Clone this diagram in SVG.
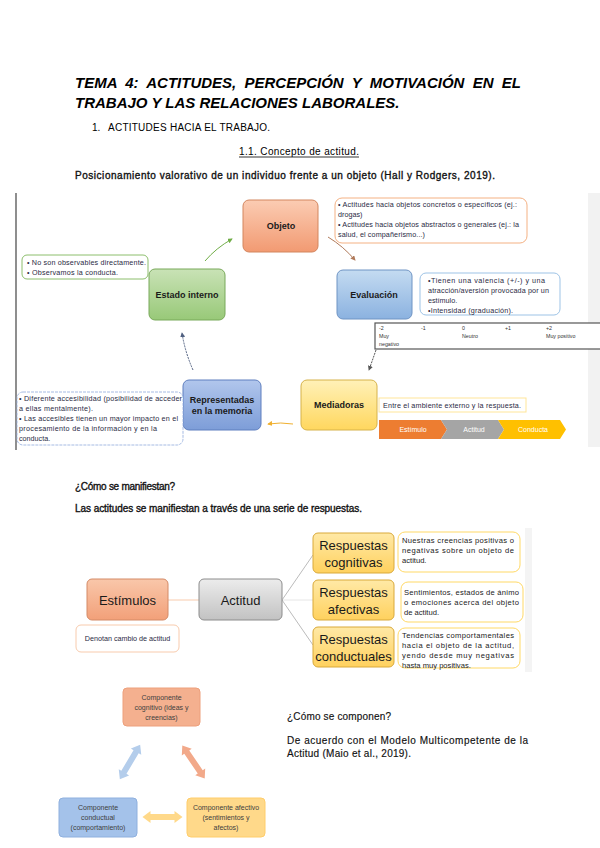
<svg xmlns="http://www.w3.org/2000/svg" width="600" height="848" viewBox="0 0 600 848">
<style>
text{font-family:"Liberation Sans",Arial,sans-serif;fill:#000}
.title{font-size:15px;font-weight:bold;font-style:italic}
.body{font-size:10px;fill:#111;stroke:#111;stroke-width:0.35}
.plain{font-size:10px;fill:#111;stroke:#111;stroke-width:0.15}
.reg{font-size:10px}
.lbl{font-size:9px;font-weight:bold;fill:#1a1a1a;text-anchor:middle}
.call{font-size:7.2px;fill:#2a2a44}
.scale{font-size:5.3px;fill:#333}
.chev{font-size:7px;fill:#fff;text-anchor:middle}
.big{font-size:13px;fill:#1a1a1a;text-anchor:middle}
.rc{font-size:7.6px;fill:#222}
.comp{font-size:7px;fill:#404040;text-anchor:middle}
.conn{fill:none;stroke-width:1}
</style>
<defs>
<linearGradient id="gOr" x1="0" y1="0" x2="0" y2="1"><stop offset="0" stop-color="#fbccb3"/><stop offset="1" stop-color="#f29a72"/></linearGradient>
<linearGradient id="gGr" x1="0" y1="0" x2="0" y2="1"><stop offset="0" stop-color="#c9e2b6"/><stop offset="1" stop-color="#98c978"/></linearGradient>
<linearGradient id="gBl" x1="0" y1="0" x2="0" y2="1"><stop offset="0" stop-color="#c4dbf1"/><stop offset="1" stop-color="#8bb2e0"/></linearGradient>
<linearGradient id="gYe" x1="0" y1="0" x2="0" y2="1"><stop offset="0" stop-color="#fff1b8"/><stop offset="1" stop-color="#ffd75e"/></linearGradient>
<linearGradient id="gBl2" x1="0" y1="0" x2="0" y2="1"><stop offset="0" stop-color="#b1c6ec"/><stop offset="1" stop-color="#7d9dd8"/></linearGradient>
<linearGradient id="gSa" x1="0" y1="0" x2="0" y2="1"><stop offset="0" stop-color="#f9c7aa"/><stop offset="1" stop-color="#f2a079"/></linearGradient>
<linearGradient id="gGy" x1="0" y1="0" x2="0" y2="1"><stop offset="0" stop-color="#ececec"/><stop offset="1" stop-color="#c2c2c2"/></linearGradient>
<linearGradient id="gRe" x1="0" y1="0" x2="0" y2="1"><stop offset="0" stop-color="#ffe9a6"/><stop offset="1" stop-color="#ffd15e"/></linearGradient>
<marker id="ah" viewBox="0 0 6 6" refX="5" refY="3" markerWidth="5" markerHeight="5" orient="auto"><path d="M0,0 L6,3 L0,6 z" fill="context-stroke"/></marker>
<path id="dbl" d="M-20,0 L-12,-6 L-12,-3 L12,-3 L12,-6 L20,0 L12,6 L12,3 L-12,3 L-12,6 Z"/>
</defs>

<g id="header">
<text class="title" x="75" y="88" word-spacing="4.1">TEMA 4: ACTITUDES, PERCEPCIÓN Y MOTIVACIÓN EN EL</text>
<text class="title" x="75" y="108">TRABAJO Y LAS RELACIONES LABORALES.</text>
<text class="reg" x="92" y="131">1.</text>
<text class="reg" x="108" y="131" textLength="162">ACTITUDES HACIA EL TRABAJO.</text>
<text class="reg" x="239" y="155" font-size="11" textLength="120">1.1. Concepto de actitud.</text>
<line x1="239" y1="157" x2="359" y2="157" stroke="#000" stroke-width="0.8"/>
<text class="body" x="75" y="179" textLength="420">Posicionamiento valorativo de un individuo frente a un objeto (Hall y Rodgers, 2019).</text>
</g>

<g id="frame1">
<line x1="16" y1="193" x2="16" y2="450" stroke="#444" stroke-width="1.2"/>
<rect x="588" y="193" width="12" height="254" fill="#f2f2f2"/>
</g>

<g id="connectors">
<path class="conn" d="M205,261 Q216,248 232,239" stroke="#70ad47" marker-end="url(#ah)"/>
<path class="conn" d="M328,237 Q343,246 355,260" stroke="#b07a5a" marker-end="url(#ah)"/>
<path class="conn" d="M376,350 L369,370" stroke="#555" stroke-dasharray="2,1" marker-end="url(#ah)"/>
<path class="conn" d="M293,424 Q281,422 268,424" stroke="#f0b030" marker-end="url(#ah)"/>
<path class="conn" d="M193,370 Q185,352 182,333" stroke="#506080" stroke-dasharray="2,1" marker-end="url(#ah)"/>
<line x1="168" y1="600" x2="199" y2="600" stroke="#f8cbad" stroke-width="1"/>
<line x1="282" y1="600" x2="313" y2="555" stroke="#aaa" stroke-width="0.8"/>
<line x1="282" y1="600" x2="313" y2="600" stroke="#e0e0e0" stroke-width="0.8"/>
<line x1="282" y1="600" x2="313" y2="645" stroke="#aaa" stroke-width="0.8"/>
</g>

<g id="objeto">
<rect x="243" y="200" width="75" height="52" rx="6" fill="url(#gOr)" stroke="#d3865f"/>
<text class="lbl" x="281" y="229">Objeto</text>
</g>
<g id="objeto-note">
<rect x="335" y="198" width="192" height="45" rx="7" fill="#fff" stroke="#f4b183"/>
<text class="call" x="338" y="207" textLength="179">• Actitudes hacia objetos concretos o específicos (ej.:</text>
<text class="call" x="338" y="217">drogas)</text>
<text class="call" x="338" y="227" textLength="181">• Actitudes hacia objetos abstractos o generales (ej.: la</text>
<text class="call" x="338" y="237" textLength="87">salud, el compañerismo...)</text>
</g>
<g id="estado">
<rect x="149" y="269" width="76" height="51" rx="6" fill="url(#gGr)" stroke="#79a95a"/>
<text class="lbl" x="187" y="298">Estado interno</text>
</g>
<g id="estado-note">
<rect x="22" y="255" width="126" height="24" rx="5" fill="#fff" stroke="#70ad47" stroke-width="0.8"/>
<text class="call" x="27" y="265" textLength="119">• No son observables directamente.</text>
<text class="call" x="27" y="275" textLength="91">• Observamos la conducta.</text>
</g>
<g id="evaluacion">
<rect x="337" y="270" width="75" height="49" rx="6" fill="url(#gBl)" stroke="#6f94c4"/>
<text class="lbl" x="374" y="298">Evaluación</text>
</g>
<g id="evaluacion-note">
<rect x="420" y="273" width="140" height="42" rx="6" fill="#fff" stroke="#9dc3e6"/>
<text class="call" x="428" y="283" textLength="117">•Tienen una valencia (+/-) y una</text>
<text class="call" x="428" y="293" textLength="121">atracción/aversión provocada por un</text>
<text class="call" x="428" y="303">estímulo.</text>
<text class="call" x="428" y="313" textLength="85">•Intensidad (graduación).</text>
</g>
<g id="escala">
<rect x="375" y="323" width="228" height="26" fill="#fff" stroke="#555" stroke-width="1.2"/>
<text class="scale" x="379" y="330">-2</text>
<text class="scale" x="421" y="330">-1</text>
<text class="scale" x="462" y="330">0</text>
<text class="scale" x="505" y="330">+1</text>
<text class="scale" x="546" y="330">+2</text>
<text class="scale" x="379" y="338">Muy</text>
<text class="scale" x="462" y="338">Neutro</text>
<text class="scale" x="546" y="338">Muy positivo</text>
<text class="scale" x="379" y="346">negativo</text>
</g>
<g id="mediadoras">
<rect x="301" y="380" width="76" height="50" rx="6" fill="url(#gYe)" stroke="#d6b24a"/>
<text class="lbl" x="339" y="408">Mediadoras</text>
</g>
<g id="mediadoras-note">
<rect x="379" y="398" width="147" height="14" fill="#fff" stroke="#ffe699"/>
<text class="call" x="383" y="408" textLength="138">Entre el ambiente externo y la respuesta.</text>
</g>
<g id="cadena">
<path d="M379,420 H441 L447,429.5 L441,439 H379 Z" fill="#ed7d31"/>
<path d="M441,420 H498 L504,429.5 L498,439 H441 L447,429.5 Z" fill="#a5a5a5"/>
<path d="M498,420 H560 L566,429.5 L560,439 H498 L504,429.5 Z" fill="#ffc000"/>
<text class="chev" x="413" y="432">Estímulo</text>
<text class="chev" x="474" y="432">Actitud</text>
<text class="chev" x="533" y="432">Conducta</text>
</g>
<g id="representadas">
<rect x="183" y="380" width="78" height="50" rx="6" fill="url(#gBl2)" stroke="#5f7fbf"/>
<text class="lbl" x="222" y="403">Representadas</text>
<text class="lbl" x="222" y="414">en la memoria</text>
</g>
<g id="representadas-note">
<rect x="17" y="392" width="166" height="53" rx="6" fill="#fff" stroke="#8faadc" stroke-width="0.8" stroke-dasharray="3,1"/>
<text class="call" x="19" y="401" textLength="163">• Diferente accesibilidad (posibilidad de acceder</text>
<text class="call" x="19" y="411" textLength="74">a ellas mentalmente).</text>
<text class="call" x="19" y="421" textLength="159">• Las accesibles tienen un mayor impacto en el</text>
<text class="call" x="19" y="431" textLength="138">procesamiento de la información y en la</text>
<text class="call" x="19" y="441">conducta.</text>
</g>

<g id="texto-medio">
<text class="body" x="75" y="490" textLength="100">¿Cómo se manifiestan?</text>
<text class="body" x="75" y="512" textLength="287">Las actitudes se manifiestan a través de una serie de respuestas.</text>
<rect x="525" y="528" width="7" height="144" fill="#f4f4f4"/>
</g>
<g id="estimulos">
<rect x="87" y="579" width="81" height="41" rx="5" fill="url(#gSa)" stroke="#d48a66"/>
<text class="big" x="127.5" y="605">Estímulos</text>
</g>
<g id="estimulos-note">
<rect x="76" y="625" width="103" height="27" rx="5" fill="#fff" stroke="#f8cbad"/>
<text class="call" x="127.5" y="641" text-anchor="middle" font-size="7.6">Denotan cambio de actitud</text>
</g>
<g id="actitud">
<rect x="199" y="579" width="83" height="41" rx="5" fill="url(#gGy)" stroke="#8c8c8c"/>
<text class="big" x="240.5" y="605">Actitud</text>
</g>
<g id="cognitivas">
<rect x="313" y="533" width="81" height="40" rx="5" fill="url(#gRe)" stroke="#d9a93a"/>
<text class="big" x="353.5" y="550">Respuestas</text>
<text class="big" x="353.5" y="567">cognitivas</text>
</g>
<g id="cognitivas-note">
<rect x="398" y="532" width="122" height="40" rx="7" fill="#fff" stroke="#ffd966"/>
<text class="rc" x="402" y="543" textLength="112">Nuestras creencias positivas o</text>
<text class="rc" x="402" y="553" textLength="112">negativas sobre un objeto de</text>
<text class="rc" x="402" y="563">actitud.</text>
</g>
<g id="afectivas">
<rect x="313" y="580" width="81" height="40" rx="5" fill="url(#gRe)" stroke="#d9a93a"/>
<text class="big" x="353.5" y="597">Respuestas</text>
<text class="big" x="353.5" y="614">afectivas</text>
</g>
<g id="afectivas-note">
<rect x="401" y="582" width="122" height="40" rx="7" fill="#fff" stroke="#ffd966"/>
<text class="rc" x="404" y="595" textLength="115">Sentimientos, estados de ánimo</text>
<text class="rc" x="404" y="605" textLength="115">o emociones acerca del objeto</text>
<text class="rc" x="404" y="615">de actitud.</text>
</g>
<g id="conductuales">
<rect x="313" y="627" width="81" height="40" rx="5" fill="url(#gRe)" stroke="#d9a93a"/>
<text class="big" x="353.5" y="644">Respuestas</text>
<text class="big" x="353.5" y="661">conductuales</text>
</g>
<g id="conductuales-note">
<rect x="398" y="628" width="122" height="40" rx="7" fill="#fff" stroke="#ffd966"/>
<text class="rc" x="402" y="638" textLength="112">Tendencias comportamentales</text>
<text class="rc" x="402" y="648" textLength="112">hacia el objeto de la actitud,</text>
<text class="rc" x="402" y="658" textLength="112">yendo desde muy negativas</text>
<text class="rc" x="402" y="668">hasta muy positivas.</text>
</g>

<g id="cognitivo">
<rect x="123" y="688" width="77" height="38" rx="4" fill="#f4b08f" stroke="#eda07c"/>
<text class="comp" x="161.5" y="700">Componente</text>
<text class="comp" x="161.5" y="710">cognitivo (ideas y</text>
<text class="comp" x="161.5" y="720">creencias)</text>
</g>
<g id="conductual">
<rect x="59" y="798" width="78" height="39" rx="4" fill="#a4c2ea" stroke="#8fb0de"/>
<text class="comp" x="98" y="810">Componente</text>
<text class="comp" x="98" y="820">conductual</text>
<text class="comp" x="98" y="830">(comportamiento)</text>
</g>
<g id="afectivo">
<rect x="187" y="798" width="78" height="39" rx="4" fill="#ffd98a" stroke="#ffcd6a"/>
<text class="comp" x="226" y="810">Componente afectivo</text>
<text class="comp" x="226" y="820">(sentimientos y</text>
<text class="comp" x="226" y="830">afectos)</text>
</g>
<g id="flechas-componentes">
<use href="#dbl" transform="translate(130,762) rotate(-59.5)" fill="#b4cdeb"/>
<use href="#dbl" transform="translate(193.5,762) rotate(55.9)" fill="#f2a98a"/>
<use href="#dbl" transform="translate(162.5,817)" fill="#ffd98a"/>
</g>
<g id="texto-final">
<text class="plain" x="287" y="720" textLength="104">¿Cómo se componen?</text>
<text class="plain" x="287" y="744" textLength="241">De acuerdo con el Modelo Multicompetente de la</text>
<text class="plain" x="287" y="757" textLength="124">Actitud (Maio et al., 2019).</text>
</g>
</svg>
